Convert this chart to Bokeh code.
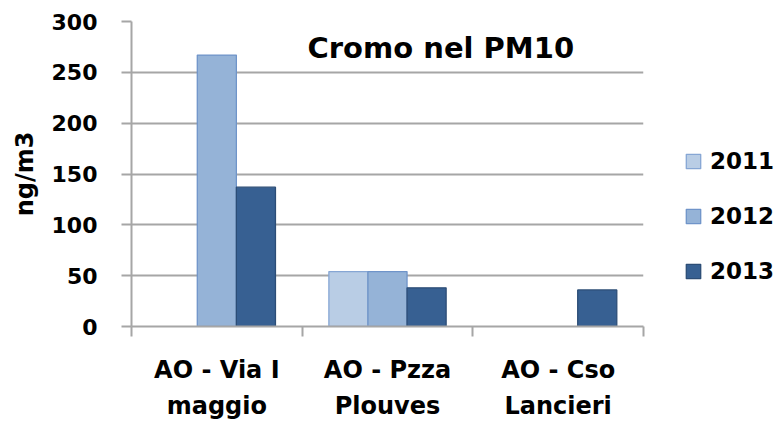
import numpy as np
from bokeh.plotting import figure
from bokeh.models import (Range1d, FixedTicker, ColumnDataSource, Legend, LegendItem, Label)
from bokeh.transform import dodge
from bokeh.embed import file_html
from bokeh.resources import INLINE

# ---- data ----
categories = ["AO - Via I\nmaggio", "AO - Pzza\nPlouves", "AO - Cso\nLancieri"]
years = ["2011", "2012", "2013"]
values_2011 = [np.nan, 54, np.nan]
values_2012 = [267, 54, np.nan]
values_2013 = [137, 38, 36]
y_ticks = [0, 50, 100, 150, 200, 250, 300]
title_text = "Cromo nel PM10"
y_label = "ng/m3"

fills = ["#b9cde5", "#95b3d7", "#376092"]
lines = ["#86a6d4", "#6f94c9", "#2c4d76"]
FONT = "DejaVu Sans"
GRAY = "#a6a6a6"

pos = [i + 0.5 for i in range(len(categories))]
src = ColumnDataSource(dict(x=pos, v2011=values_2011, v2012=values_2012, v2013=values_2013))

p = figure(frame_width=512, frame_height=305, output_backend="svg", toolbar_location=None,
           x_range=Range1d(0, len(categories)), y_range=Range1d(0, 300),
           min_border_left=131, min_border_right=137, min_border_top=21, min_border_bottom=99)
p.outline_line_color = None
p.background_fill_color = "white"
p.border_fill_color = "white"

bw = 0.229
renderers = []
for k, (col, off) in enumerate(zip(["v2011", "v2012", "v2013"], [-bw, 0, bw])):
    r = p.vbar(x=dodge("x", off, range=p.x_range), top=col, width=bw, bottom=0, source=src,
               fill_color=fills[k], line_color=lines[k], line_width=1.3)
    renderers.append(r)

# grid
p.xgrid.visible = False
p.ygrid.grid_line_color = GRAY
p.ygrid.grid_line_width = 2
p.ygrid.ticker = FixedTicker(ticks=y_ticks)

# y axis
p.yaxis.ticker = FixedTicker(ticks=y_ticks)
p.yaxis.axis_line_color = GRAY
p.yaxis.axis_line_width = 2
p.yaxis.major_tick_line_color = GRAY
p.yaxis.major_tick_line_width = 2
p.yaxis.major_tick_out = 10
p.yaxis.major_tick_in = 0
p.yaxis.minor_tick_line_color = None
p.yaxis.major_label_text_font = FONT
p.yaxis.major_label_text_font_style = "bold"
p.yaxis.major_label_text_font_size = "22px"
p.yaxis.major_label_text_color = "black"
p.yaxis.major_label_standoff = 24
p.yaxis.axis_label = y_label
p.yaxis.axis_label_text_font = FONT
p.yaxis.axis_label_text_font_style = "bold"
p.yaxis.axis_label_text_font_size = "24px"
p.yaxis.axis_label_text_color = "black"
p.yaxis.axis_label_standoff = 10

# x axis
p.xaxis.ticker = FixedTicker(ticks=pos, minor_ticks=list(range(len(categories) + 1)))
p.xaxis.major_label_overrides = {x: c for x, c in zip(pos, categories)}
p.xaxis.axis_line_color = GRAY
p.xaxis.axis_line_width = 2
p.xaxis.major_tick_line_color = None
p.xaxis.major_tick_out = 0
p.xaxis.major_tick_in = 0
p.xaxis.minor_tick_line_color = GRAY
p.xaxis.minor_tick_line_width = 2
p.xaxis.minor_tick_out = 10
p.xaxis.minor_tick_in = 0
p.xaxis.major_label_text_font = FONT
p.xaxis.major_label_text_font_style = "bold"
p.xaxis.major_label_text_font_size = "24px"
p.xaxis.major_label_text_color = "black"
p.xaxis.major_label_text_line_height = 1.3
p.xaxis.major_label_standoff = 19

# title inside plot
p.add_layout(Label(x=176, y=279, x_units="screen", y_units="screen", text=title_text,
                   text_font=FONT, text_font_style="bold", text_font_size="29px",
                   text_color="black", text_baseline="alphabetic"))

# legend (right side panel)
legend = Legend(items=[LegendItem(label=y, renderers=[r]) for y, r in zip(years, renderers)],
                location=(41, 42), orientation="vertical",
                glyph_width=18, glyph_height=18, label_height=26, label_standoff=8,
                spacing=29, padding=0, margin=0,
                border_line_color=None, background_fill_alpha=0,
                label_text_font=FONT, label_text_font_style="bold",
                label_text_font_size="23px", label_text_color="black")
p.add_layout(legend, "right")

open("out.html", "w").write(file_html(p, INLINE))
